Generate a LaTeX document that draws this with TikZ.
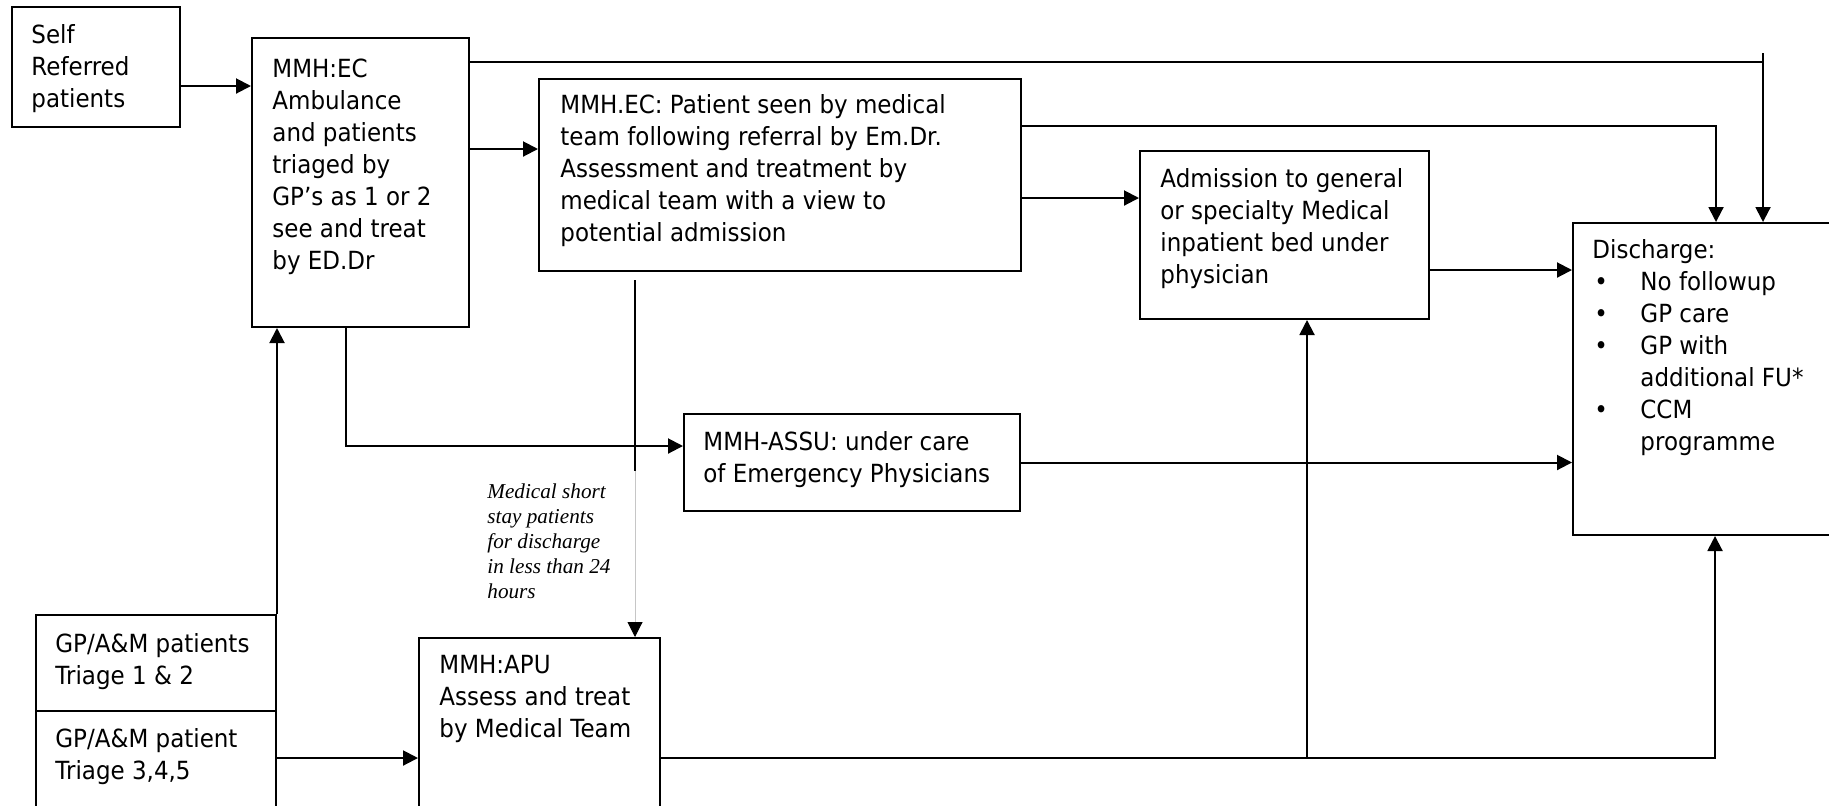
\documentclass[tikz,border=0pt]{standalone}
\usepackage{fontspec}
\setmainfont{DejaVu Sans}[FakeStretch=0.92]
\newfontfamily\notefont{Liberation Serif}
\usetikzlibrary{arrows.meta,calc}
\tikzset{
  box/.style={draw, line width=1pt, inner sep=0pt, anchor=north west},
  txt/.style={inner sep=0pt, anchor=north west, align=left, font=\fontsize{12.5}{16}\selectfont},
  note/.style={inner sep=0pt, anchor=north west, align=left, font=\notefont\itshape\fontsize{10.6}{12.5}\selectfont},
  conn/.style={line width=1pt},
  arr/.style={conn, -{Triangle[length=7.5pt,width=7.5pt]}},
  thinarr/.style={line width=0.5pt, gray!45, -{Triangle[length=7.5pt,width=7.5pt,color=black]}},
}
\newcommand{\bul}{\makebox[24pt][l]{\hspace{1pt}•}}
\newcommand{\ind}{\hspace*{24pt}}
\newcommand{\st}{\rule{0pt}{10pt}}
\begin{document}
\begin{tikzpicture}[x=0.5pt,y=-0.5pt]
\clip (0,0) rectangle (1829,805);
\fill[white] (0,0) rectangle (1829,805);
% boxes
\node[box, minimum width=84pt, minimum height=60pt] (self) at (11,6) {};
\node[box, minimum width=108.5pt, minimum height=144.5pt] (ec) at (251,37) {};
\node[box, minimum width=241pt, minimum height=96pt] (pat) at (538,78) {};
\node[box, minimum width=144.5pt, minimum height=84pt] (adm) at (1139,150) {};
\node[box, minimum width=140pt, minimum height=156pt] (dis) at (1572,222) {};
\node[box, minimum width=168pt, minimum height=48.5pt] (assu) at (683,413) {};
\node[box, minimum width=120pt, minimum height=48pt] (tri12) at (35,614) {};
\node[box, minimum width=120pt, minimum height=55pt] (tri345) at (35,710) {};
\node[box, minimum width=120.5pt, minimum height=90pt] (apu) at (418,637) {};
% texts
\node[txt] (selft) at ($(self.north west)+(20,17)$) {\st Self\\Referred\\patients};
\node[txt] (ect) at ($(ec.north west)+(21,20)$) {\st MMH:EC\\Ambulance\\and patients\\triaged by\\GP’s as 1 or 2\\see and treat\\by ED.Dr};
\node[txt] (patt) at ($(pat.north west)+(22,15)$) {\st MMH.EC: Patient seen by medical\\team following referral by Em.Dr.\\Assessment and treatment by\\medical team with a view to\\potential admission};
\node[txt] (admt) at ($(adm.north west)+(21,17)$) {\st Admission to general\\or specialty Medical\\inpatient bed under\\physician};
\node[txt] (dist) at ($(dis.north west)+(20,16)$) {\st Discharge:\\\bul No followup\\\bul GP care\\\bul GP with\\\ind additional FU*\\\bul CCM\\\ind programme};
\node[txt] (assut) at ($(assu.north west)+(20,17)$) {\st MMH-ASSU: under care\\of Emergency Physicians};
\node[txt] (tri12t) at ($(tri12.north west)+(20,18)$) {\st GP/A\&M patients\\Triage 1 \& 2};
\node[txt] (tri345t) at ($(tri345.north west)+(20,17)$) {\st GP/A\&M patient\\Triage 3,4,5};
\node[txt] (aput) at ($(apu.north west)+(21,16)$) {\st MMH:APU\\Assess and treat\\by Medical Team};
\node[note] (shortstay) at ($(apu.north west)+(69,-156)$) {\rule{0pt}{8.5pt}Medical short\\stay patients\\for discharge\\in less than 24\\hours};
% connectors
\coordinate (c1) at ($(self.north east)+(0,80)$);
\draw[arr] (c1) -- (c1 -| ec.west);
\coordinate (c2) at ($(ec.north east)+(0,25)$);
\coordinate (c2d) at ($(dis.north west)+(191,0)$);
\draw[conn] (c2) -- (c2 -| c2d);
\coordinate (c2t) at ($(c2 -| c2d)+(0,-9)$);
\draw[arr] (c2t) -- (c2d);
\coordinate (c3) at ($(ec.north east)+(0,112)$);
\draw[arr] (c3) -- (c3 -| pat.west);
\coordinate (c4) at ($(pat.north east)+(0,48)$);
\coordinate (c4d) at ($(dis.north west)+(144,0)$);
\draw[arr] (c4) -| (c4d);
\coordinate (c5) at ($(pat.north east)+(0,120)$);
\draw[arr] (c5) -- (c5 -| adm.west);
\coordinate (c6) at ($(adm.north east)+(0,120)$);
\draw[arr] (c6) -- (c6 -| dis.west);
\coordinate (c7) at ($(ec.south west)+(95,0)$);
\coordinate (c7a) at ($(assu.north west)+(0,33)$);
\draw[arr] (c7) |- (c7a);
\draw[arr] (assu.east) -- (assu.east -| dis.west);
\coordinate (c9) at ($(pat.south west)+(97,8)$);
\coordinate (c9b) at ($(c9)+(0,191)$);
\coordinate (c9d) at ($(apu.north west)+(217,0)$);
\draw[conn] (c9) -- (c9b);
\draw[thinarr] (c9b) -- (c9d);
\draw[arr] (tri12.north east) -- (tri12.north east |- ec.south);
\coordinate (c11) at ($(tri345.north east)+(0,48)$);
\draw[arr] (c11) -- (c11 -| apu.west);
\coordinate (c12) at ($(apu.north east)+(0,121)$);
\coordinate (c12d) at ($(dis.south west)+(143,0)$);
\draw[arr] (c12) -| (c12d);
\coordinate (c12a) at ($(adm.south west)+(168,0)$);
\draw[arr] (c12 -| c12a) -- (c12a);
\end{tikzpicture}
\end{document}
